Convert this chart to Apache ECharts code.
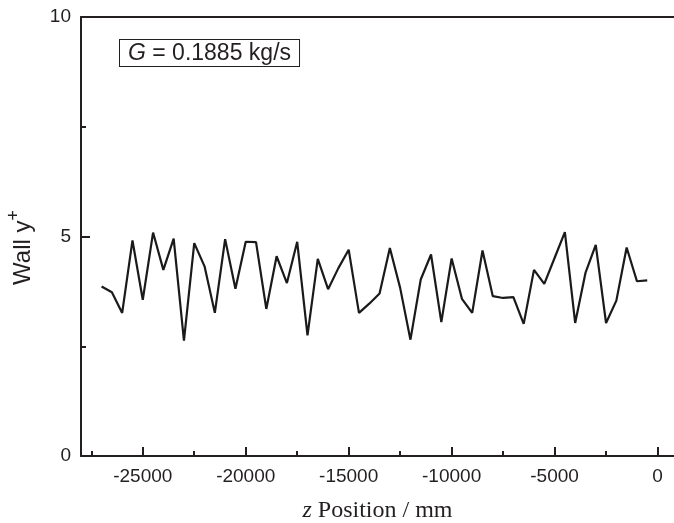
<!DOCTYPE html>
<html><head><meta charset="utf-8">
<script src="https://cdn.jsdelivr.net/npm/echarts@6/dist/echarts.min.js"></script>
<style>html,body{margin:0;padding:0;background:#fff}#c{width:674px;height:523px}</style>
</head><body><div id="c"></div>
<script>
const zPos = [-27000,-26500,-26000,-25500,-25000,-24500,-24000,-23500,-23000,-22500,
  -22000,-21500,-21000,-20500,-20000,-19500,-19000,-18500,-18000,-17500,
  -17000,-16500,-16000,-15500,-15000,-14500,-14000,-13500,-13000,-12500,
  -12000,-11500,-11000,-10500,-10000,-9500,-9000,-8500,-8000,-7500,
  -7000,-6500,-6000,-5500,-5000,-4500,-4000,-3500,-3000,-2500,
  -2000,-1500,-1000,-500];
const wallYPlus = [3.86,3.73,3.26,4.91,3.56,5.09,4.24,4.95,2.63,4.85,
  4.32,3.26,4.94,3.81,4.88,4.87,3.35,4.55,3.94,4.88,
  2.75,4.49,3.80,4.28,4.70,3.26,3.47,3.70,4.74,3.83,
  2.65,4.02,4.59,3.05,4.50,3.58,3.26,4.68,3.64,3.60,
  3.62,3.01,4.24,3.92,4.51,5.10,3.03,4.17,4.81,3.03,
  3.54,4.75,3.98,4.00];
const xMajorTicks = [-25000,-20000,-15000,-10000,-5000,0];
const xMinorTicks = [-27500,-22500,-17500,-12500,-7500,-2500];
const yTicks = [0,5,10];

const axisColor = '#231f20';
const sans = 'Liberation Sans, Arial, sans-serif';
const serif = 'Liberation Serif, Times New Roman, serif';
const chart = echarts.init(document.getElementById('c'), null, {renderer:'canvas'});
const XMIN = -28000, XMAX = 800;
chart.setOption({
  animation: false,
  backgroundColor: '#fff',
  grid: {left: 81, right: 0, top: 17, bottom: 67, containLabel: false, outerBoundsMode: 'none'},
  xAxis: [
    {
      type: 'value', position: 'bottom', min: XMIN, max: XMAX,
      axisLine: {show: true, onZero: false, lineStyle: {color: axisColor, width: 2}},
      axisTick: {show: true, inside: true, length: 9, customValues: xMajorTicks, lineStyle: {color: axisColor, width: 2}},
      axisLabel: {show: true, customValues: xMajorTicks, margin: 11, color: '#231f20', fontSize: 19, fontFamily: sans,
        formatter: v => String(v)},
      splitLine: {show: false},
      name: '{i|z}{n| Position / mm}',
      nameLocation: 'middle', nameGap: 43,
      nameTextStyle: {
        fontFamily: serif, fontSize: 24, color: '#231f20',
        rich: {
          i: {fontFamily: serif, fontSize: 24, fontStyle: 'italic', color: '#231f20'},
          n: {fontFamily: serif, fontSize: 24, color: '#231f20'}
        }
      }
    },
    {
      type: 'value', position: 'bottom', min: XMIN, max: XMAX,
      axisLine: {show: false, onZero: false},
      axisTick: {show: true, inside: true, length: 5, customValues: xMinorTicks, lineStyle: {color: axisColor, width: 2}},
      axisLabel: {show: false},
      splitLine: {show: false}
    },
    {
      type: 'value', position: 'top', min: XMIN, max: XMAX,
      axisLine: {show: true, onZero: false, lineStyle: {color: axisColor, width: 2}},
      axisTick: {show: false}, axisLabel: {show: false}, splitLine: {show: false}
    }
  ],
  yAxis: {
    type: 'value', min: 0, max: 10, interval: 5,
    axisLine: {show: true, onZero: false, lineStyle: {color: axisColor, width: 2}},
    axisTick: {show: true, inside: true, length: 9, lineStyle: {color: axisColor, width: 2}},
    minorTick: {show: true, splitNumber: 2, length: 5, lineStyle: {color: axisColor, width: 2}},
    axisLabel: {margin: 10, color: '#231f20', fontSize: 19, fontFamily: sans, formatter: v => String(v)},
    splitLine: {show: false},
    minorSplitLine: {show: false},
    name: '{a|Wall y}{s|+}',
    nameLocation: 'middle', nameGap: 46, nameRotate: 90,
    nameTextStyle: {
      fontFamily: sans, fontSize: 24, color: '#231f20',
      padding: [0, 22, 0, 0],
      rich: {
        a: {fontFamily: sans, fontSize: 24, color: '#231f20', lineHeight: 30, verticalAlign: 'bottom'},
        s: {fontFamily: sans, fontSize: 18, color: '#231f20', lineHeight: 30, verticalAlign: 'top'}
      }
    }
  },
  graphic: [
    {
      type: 'text', left: 119, top: 39, z: 100,
      style: {
        text: '{i|G}{n| = 0.1885 kg/s}',
        rich: {
          i: {fontFamily: sans, fontSize: 23, fontStyle: 'italic', fill: '#231f20'},
          n: {fontFamily: sans, fontSize: 23, fill: '#231f20'}
        },
        fill: '#231f20',
        borderColor: '#231f20', borderWidth: 1,
        padding: [2, 8, 1, 8],
        backgroundColor: '#fff'
      }
    }
  ],
  series: [{
    type: 'line', xAxisIndex: 0,
    data: zPos.map((z, i) => [z, wallYPlus[i]]),
    showSymbol: false, symbol: 'none',
    lineStyle: {color: '#1a1a1a', width: 2.2},
    clip: true
  }]
});
</script>
</body></html>
